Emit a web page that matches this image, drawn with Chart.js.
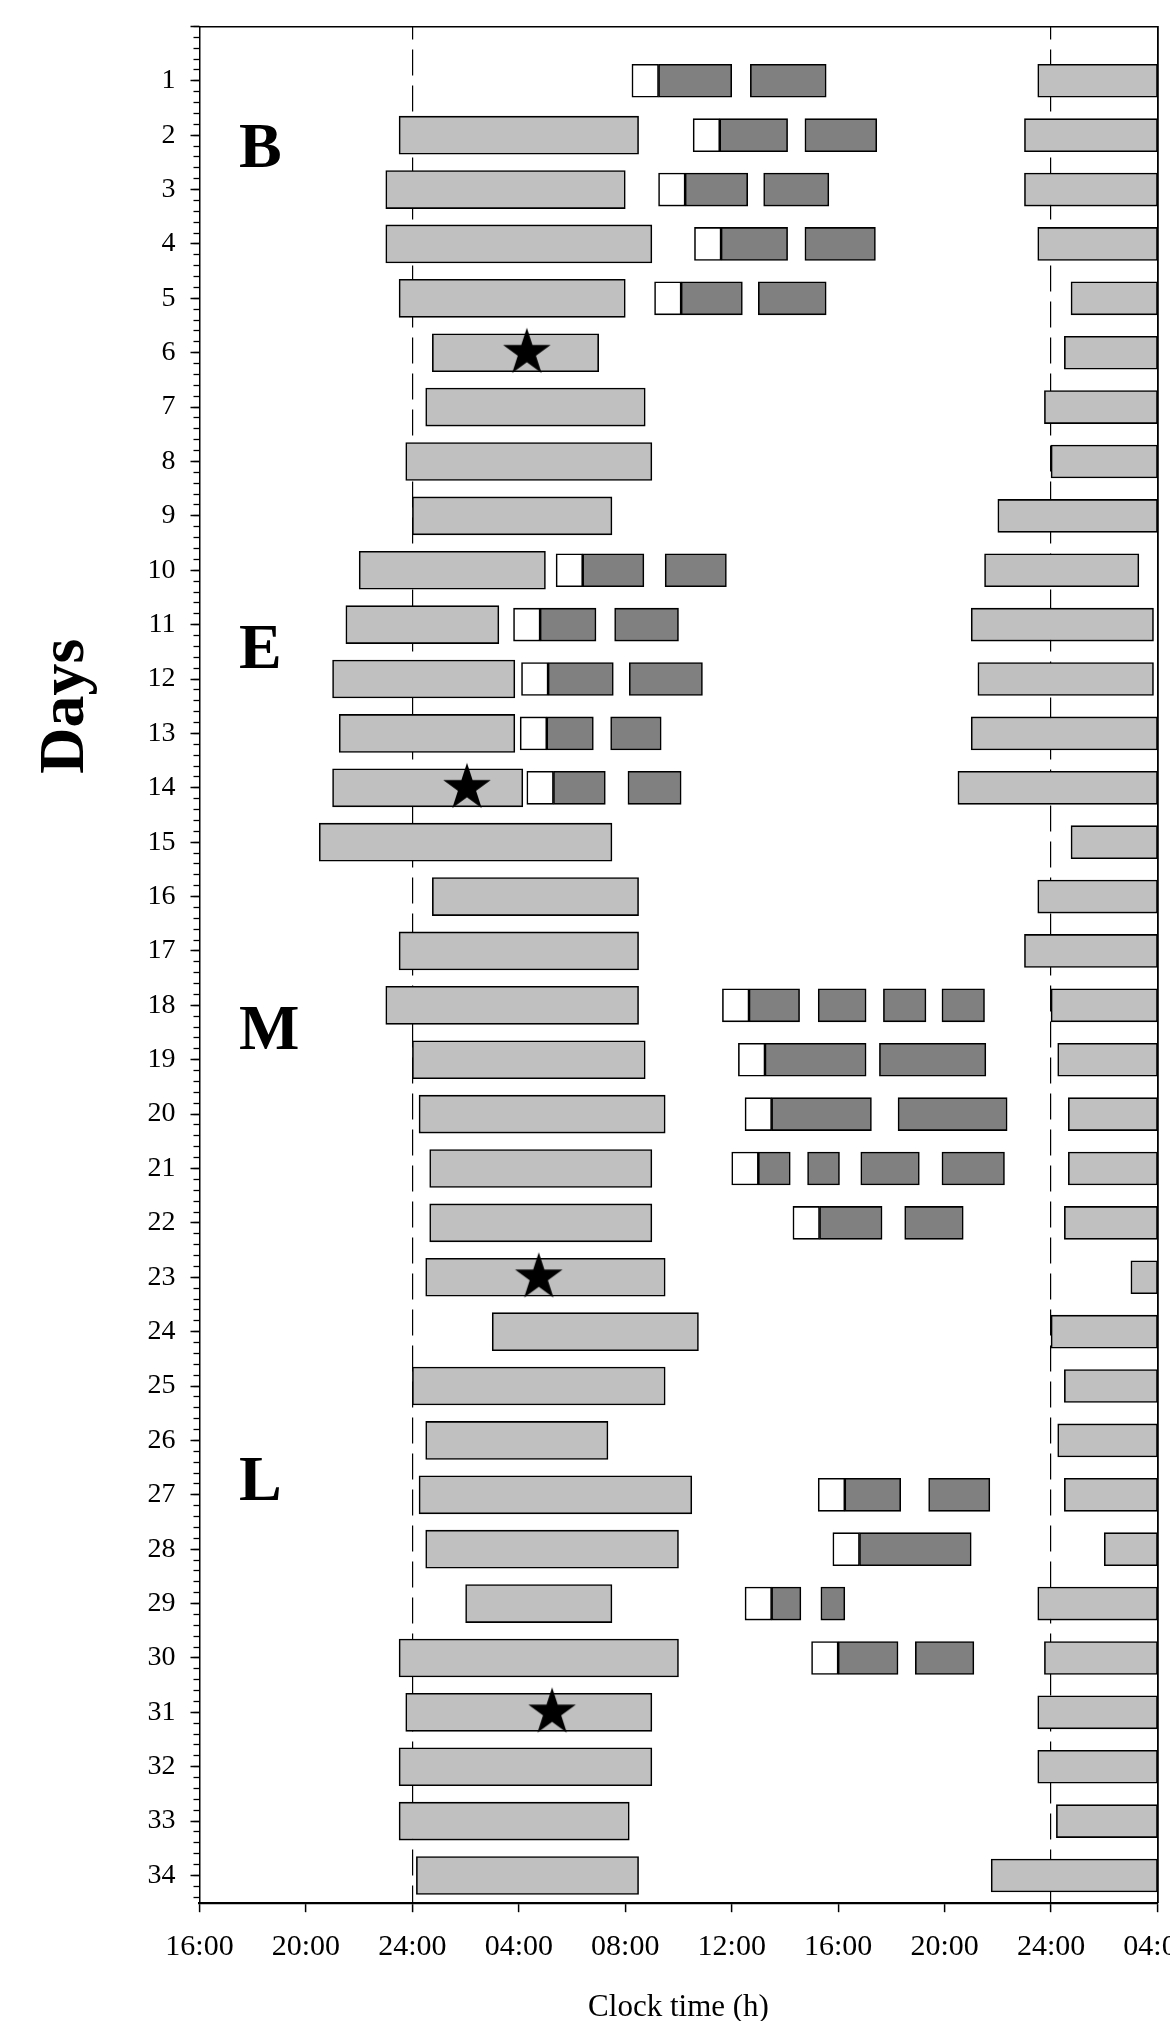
<!DOCTYPE html>
<html>
<head>
<meta charset="utf-8">
<script src="https://cdn.jsdelivr.net/npm/chart.js@4.4.0/dist/chart.umd.min.js"></script>
<style>
  html, body { margin: 0; padding: 0; background: #fff; overflow: hidden; }
  #wrap { position: relative; width: 1208px; height: 2021px; }
</style>
</head>
<body>
<div id="wrap"><canvas id="c" width="1208" height="2021"></canvas></div>
<script>
// ---------------- DATA ----------------
const days = [1,2,3,4,5,6,7,8,9,10,11,12,13,14,15,16,17,18,19,20,21,22,23,24,25,26,27,28,29,30,31,32,33,34];

// main sleep episode (light grey, thick), clock hours from 16 (day 0) onwards
const sleepMain = [
  null,[23.5,32.5],[23.0,32.0],[23.0,33.0],[23.5,32.0],[24.75,31.0],[24.5,32.75],[23.75,33.0],
  [24.0,31.5],[22.0,29.0],[21.5,27.25],[21.0,27.85],[21.25,27.85],[21.0,28.15],[20.5,31.5],
  [24.75,32.5],[23.5,32.5],[23.0,32.5],[24.0,32.75],[24.25,33.5],[24.65,33.0],[24.65,33.0],
  [24.5,33.5],[27.0,34.75],[24.0,33.5],[24.5,31.35],[24.25,34.5],[24.5,34.0],[26.0,31.5],
  [23.5,34.0],[23.75,33.0],[23.5,33.0],[23.5,32.15],[24.15,32.5]
];

// next evening sleep onset (light grey, right side)
const sleepNext = [
  [47.5,52],[47.0,52],[47.0,52],[47.5,52],[48.75,52],[48.5,52],[47.75,52],[48.0,52],
  [46.0,52],[45.5,51.3],[45.0,51.85],[45.25,51.85],[45.0,52],[44.5,52],[48.75,52],
  [47.5,52],[47.0,52],[48.0,52],[48.25,52],[48.65,52],[48.65,52],[48.5,52],[51.0,52],
  [48.0,52],[48.5,52],[48.25,52],[48.5,52],[50.0,52],[47.5,52],[47.75,52],[47.5,52],
  [47.5,52],[48.2,52],[45.75,52]
];

// white boxes (1 h)
const whiteBoxes = [
  [32.25,33.25],[34.55,35.55],[33.25,34.25],[34.6,35.6],[33.1,34.1],null,null,null,
  null,[29.4,30.4],[27.8,28.8],[28.1,29.1],[28.05,29.05],[28.3,29.3],null,
  null,null,[35.65,36.65],[36.25,37.25],[36.5,37.5],[36.0,37.0],[38.3,39.3],null,
  null,null,null,[39.25,40.25],[39.8,40.8],[36.5,37.5],[39.0,40.0],null,
  null,null,null
];

// dark grey bouts
const darkBars = [
  [[33.25,36.0],[36.7,39.55]],
  [[35.55,38.1],[38.75,41.45]],
  [[34.25,36.6],[37.2,39.65]],
  [[35.6,38.1],[38.75,41.4]],
  [[34.1,36.4],[37.0,39.55]],
  [],[],[],[],
  [[30.4,32.7],[33.5,35.8]],
  [[28.8,30.9],[31.6,34.0]],
  [[29.1,31.55],[32.15,34.9]],
  [[29.05,30.8],[31.45,33.35]],
  [[29.3,31.25],[32.1,34.1]],
  [],[],[],
  [[36.65,38.55],[39.25,41.05],[41.7,43.3],[43.9,45.5]],
  [[37.25,41.05],[41.55,45.55]],
  [[37.5,41.25],[42.25,46.35]],
  [[37.0,38.2],[38.85,40.05],[40.85,43.05],[43.9,46.25]],
  [[39.3,41.65],[42.5,44.7]],
  [],[],[],[],
  [[40.25,42.35],[43.4,45.7]],
  [[40.8,45.0]],
  [[37.5,38.6],[39.35,40.25]],
  [[40.0,42.25],[42.9,45.1]],
  [],[],[],[]
];

// stars
const starDays = [6, 14, 23, 31];
const starTimes = [28.3, 26.05, 28.75, 29.25];

// tick labels
const xTickValues = [16, 20, 24, 28, 32, 36, 40, 44, 48, 52];
const xTickLabels = ['16:00','20:00','24:00','04:00','08:00','12:00','16:00','20:00','24:00','04:00'];
const dashedHours = [24, 48];

// phase letters
const phaseLabels = ['B', 'E', 'M', 'L'];
const phaseLabelDays = [2.58, 11.79, 18.81, 27.1];

// ---------------- LAYOUT CONSTANTS ----------------
const W = 1208, H = 2021;
const AREA_LEFT = 199.5, AREA_RIGHT = 1157.5, AREA_TOP = 26.4, AREA_BOTTOM = 1902.7;
const FONT = "'Liberation Serif', 'Times New Roman', serif";
const PHASE_X_HOUR = 17.48;
const DAYS_TITLE_X = 82.5, DAYS_TITLE_DAY = 12.5;

Chart.defaults.font.family = FONT;
Chart.defaults.color = '#000';

function noPad(s) { s.paddingTop = 0; s.paddingBottom = 0; s.paddingLeft = 0; s.paddingRight = 0; }

// star point style
function makeStar(R) {
  const c = document.createElement('canvas');
  const s = Math.ceil(2 * R + 2);
  c.width = s; c.height = s;
  const g = c.getContext('2d');
  g.translate(s / 2, s / 2);
  g.beginPath();
  const r = R * 0.382;
  for (let i = 0; i < 10; i++) {
    const a = -Math.PI / 2 + i * Math.PI / 5;
    const rr = (i % 2) ? r : R;
    g.lineTo(rr * Math.cos(a), rr * Math.sin(a));
  }
  g.closePath();
  g.fillStyle = '#000';
  g.fill();
  return c;
}
const starImg = makeStar(25);

// build datasets
const mainData = [];
sleepMain.forEach((v, i) => { if (v) mainData.push({ y: days[i], x: v }); });
const nextData = [];
sleepNext.forEach((v, i) => { if (v) nextData.push({ y: days[i], x: v }); });
const whiteData = [];
whiteBoxes.forEach((v, i) => { if (v) whiteData.push({ y: days[i], x: v }); });
const darkData = [];
darkBars.forEach((list, i) => list.forEach(v => darkData.push({ y: days[i], x: v })));
const starData = starDays.map((d, i) => ({ x: starTimes[i], y: d }));

const barCommon = {
  type: 'bar',
  indexAxis: 'y',
  grouped: false,
  borderColor: '#000',
  borderWidth: 1.6,
  borderSkipped: false,
  xAxisID: 'x',
  yAxisID: 'y'
};

const annotations = {
  id: 'annotations',
  afterDatasetsDraw(chart) {
    const { ctx, scales: { x, y } } = chart;
    ctx.save();
    ctx.fillStyle = '#000';
    ctx.font = 'bold 64px ' + FONT;
    ctx.textAlign = 'left';
    ctx.textBaseline = 'alphabetic';
    phaseLabels.forEach((t, i) => {
      ctx.fillText(t, x.getPixelForValue(PHASE_X_HOUR), y.getPixelForValue(phaseLabelDays[i]));
    });
    ctx.translate(DAYS_TITLE_X, y.getPixelForValue(DAYS_TITLE_DAY));
    ctx.rotate(-Math.PI / 2);
    ctx.textAlign = 'center';
    ctx.fillText('Days', 0, 0);
    ctx.restore();
  }
};

new Chart(document.getElementById('c'), {
  type: 'bar',
  data: {
    datasets: [
      { type: 'scatter', data: starData, pointStyle: starImg, pointRadius: 25, xAxisID: 'x', yAxisID: 'y', order: 0, indexAxis: 'y' },
      Object.assign({}, barCommon, { data: mainData, backgroundColor: '#c0c0c0', barThickness: 38, order: 4 }),
      Object.assign({}, barCommon, { data: nextData, backgroundColor: '#c0c0c0', barThickness: 33, order: 3 }),
      Object.assign({}, barCommon, { data: whiteData, backgroundColor: '#ffffff', barThickness: 33, order: 2 }),
      Object.assign({}, barCommon, { data: darkData, backgroundColor: '#808080', barThickness: 33, order: 1 })
    ]
  },
  options: {
    indexAxis: 'y',
    responsive: false,
    devicePixelRatio: 1,
    animation: false,
    layout: { padding: 0 },
    plugins: { legend: { display: false }, tooltip: { enabled: false } },
    scales: {
      x: {
        type: 'linear', position: 'bottom', min: 16, max: 52, offset: false,
        afterBuildTicks: s => { s.ticks = xTickValues.map(v => ({ value: v })); },
        afterFit: s => { s.height = H - AREA_BOTTOM; noPad(s); },
        ticks: {
          callback: (v, i) => xTickLabels[i],
          font: { size: 30, family: FONT }, color: '#000', padding: 17,
          maxRotation: 0, minRotation: 0, autoSkip: false
        },
        grid: {
          offset: false, drawOnChartArea: true, drawTicks: true,
          color: ctx => (ctx.tick && dashedHours.includes(ctx.tick.value)) ? '#000' : 'rgba(0,0,0,0)',
          lineWidth: 1.2,
          tickColor: '#000', tickLength: 9.5, tickWidth: 1.5
        },
        border: {
          display: true, color: '#000', width: 2.2,
          dash: ctx => ctx.type === 'tick' ? [26, 10] : [],
          dashOffset: 13
        },
        title: { display: true, text: 'Clock time (h)', color: '#000', font: { size: 31, family: FONT, lineHeight: 0.83 }, padding: 0 }
      },
      xTop: {
        type: 'linear', position: 'top', min: 16, max: 52, offset: false,
        afterFit: s => { s.height = AREA_TOP; noPad(s); },
        ticks: { display: false },
        grid: { display: false, drawTicks: false, offset: false },
        border: { display: true, color: '#000', width: 1.5 }
      },
      y: {
        type: 'linear', position: 'left', weight: 1, reverse: true, min: 0, max: 34.5, offset: false,
        afterBuildTicks: s => { s.ticks = [0].concat(days).map(v => ({ value: v })); },
        afterFit: s => { s.width = AREA_LEFT; noPad(s); },
        ticks: {
          callback: (v, i) => i === 0 ? '' : String(days[i - 1]),
          font: { size: 28, family: FONT }, color: '#000', padding: 15, autoSkip: false
        },
        grid: { offset: false, drawOnChartArea: false, drawTicks: true, tickLength: 9, tickWidth: 1.5, tickColor: '#000', color: '#000' },
        border: { display: true, color: '#000', width: 1.5 }
      },
      yMinor: {
        type: 'linear', position: 'left', weight: 0, reverse: true, min: 0, max: 34.5, offset: false,
        afterBuildTicks: s => { const t = []; for (let i = 0; i <= 172; i++) t.push({ value: i / 5 }); s.ticks = t; },
        afterFit: s => { s.width = 0; noPad(s); },
        ticks: { display: false },
        grid: { offset: false, drawOnChartArea: false, drawTicks: true, tickLength: 6, tickWidth: 1.3, tickColor: '#000', color: '#000' },
        border: { display: false }
      },
      yRight: {
        type: 'linear', position: 'right', min: 0, max: 34.5, offset: false,
        afterFit: s => { s.width = W - AREA_RIGHT; noPad(s); },
        ticks: { display: false },
        grid: { display: false, drawTicks: false, offset: false },
        border: { display: true, color: '#000', width: 1.8 }
      }
    }
  },
  plugins: [annotations]
});
</script>
</body>
</html>
